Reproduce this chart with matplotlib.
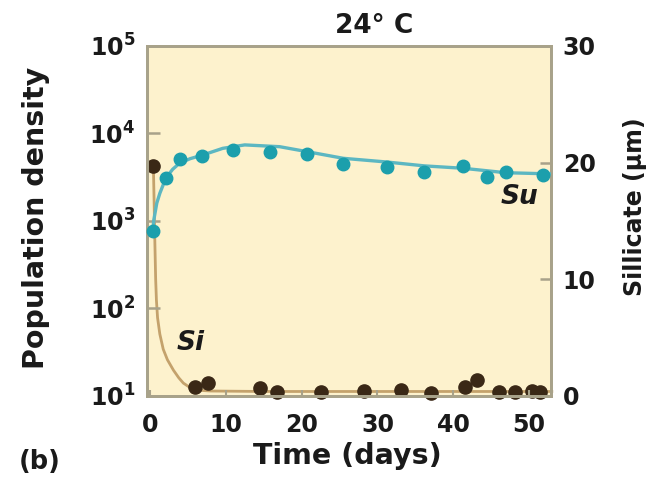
import matplotlib
matplotlib.use("Agg")
import matplotlib.pyplot as plt
from matplotlib.ticker import NullLocator

plt.rcParams['font.family'] = ['DejaVu Sans']
plt.rcParams['mathtext.fontset'] = 'dejavusans'

# Su population density (points)
su_days = [0.35, 2.1, 3.9, 6.9, 10.9, 15.8, 20.7, 25.5, 31.2, 36.2, 41.3, 44.5, 46.9, 51.8]
su_vals = [760, 3080, 5070, 5530, 6470, 6200, 5780, 4480, 4140, 3630, 4250, 3180, 3660, 3380]
# Su fitted curve (read points)
su_curve_days = [0.35, 0.5, 0.9, 1.3, 2.1, 3.0, 3.9, 5.3, 6.9, 9.6, 12.5, 17.1, 20.7, 25.5, 31.2, 36.2, 41.3, 46.9, 52.8]
su_curve_vals = [760, 1020, 1600, 2070, 3100, 3900, 4570, 5150, 5650, 6760, 7400, 7060, 6200, 5200, 4720, 4260, 4000, 3560, 3450]

# Si silicate (points)
si_days = [0.45, 5.9, 7.7, 14.5, 16.7, 22.6, 28.2, 33.1, 37.1, 41.6, 43.2, 46.0, 48.2, 50.4, 51.5]
si_vals = [19.7, 0.8, 1.09, 0.66, 0.37, 0.31, 0.43, 0.51, 0.29, 0.8, 1.37, 0.37, 0.37, 0.4, 0.37]
# Si fitted curve (read points)
si_curve_days = [0.45, 0.55, 0.65, 0.75, 0.85, 1.0, 1.3, 1.75, 2.3, 3.1, 3.8, 4.4, 5.2, 6.0, 7.0, 8.0, 15, 25, 35, 45, 53]
si_curve_vals = [19.7, 16.5, 13.0, 10.0, 8.2, 6.7, 5.3, 4.0, 3.1, 2.2, 1.55, 1.1, 0.75, 0.57, 0.46, 0.42, 0.38, 0.38, 0.38, 0.38, 0.38]

x_ticks = [0, 10, 20, 30, 40, 50]
y_ticks = [10, 100, 1000, 10000, 100000]
y_ticklabels = [r'$\mathbf{10^{1}}$', r'$\mathbf{10^{2}}$', r'$\mathbf{10^{3}}$', r'$\mathbf{10^{4}}$', r'$\mathbf{10^{5}}$']
y2_ticks = [0, 10, 20, 30]

bg = '#FDF2CD'
frame = '#A8A28A'
teal_dot = '#1C9FAC'
teal_line = '#5CB7C2'
brown_dot = '#3A2816'
brown_line = '#C4A26C'
txt = '#1A1A1A'

fig = plt.figure(figsize=(6.56, 4.84), dpi=100)
ax = fig.add_axes([0.224, 0.182, 0.616, 0.723])
ax.set_yscale('log')
ax.set_xlim(-0.4, 52.9)
ax.set_ylim(10, 100000)

ax2 = ax.twinx()
ax2.set_ylim(0, 30)

# background on the lower (right-axis) layer, Su drawn on top
ax.set_zorder(ax2.get_zorder() + 1)
ax.patch.set_visible(False)
ax2.patch.set_visible(True)
ax2.patch.set_facecolor(bg)

ax2.plot(si_curve_days, si_curve_vals, color=brown_line, lw=2.0, zorder=1, clip_on=False)
ax2.plot(si_days, si_vals, 'o', color=brown_dot, ms=9.5, mec=brown_dot, zorder=2, clip_on=False)

ax.plot(su_curve_days, su_curve_vals, color=teal_line, lw=2.4, zorder=3)
ax.plot(su_days, su_vals, 'o', color=teal_dot, ms=9.0, mec=teal_dot, zorder=4, clip_on=False)

for a in (ax, ax2):
    for s in a.spines.values():
        s.set_color(frame)
        s.set_linewidth(2.0)

ax.set_xticks(x_ticks)
ax.set_xticklabels([str(t) for t in x_ticks], fontsize=17, fontweight='bold', color=txt)
ax.set_yticks(y_ticks)
ax.set_yticklabels(y_ticklabels, fontsize=17, color=txt)
ax.yaxis.set_minor_locator(NullLocator())
ax.xaxis.set_minor_locator(NullLocator())
ax.tick_params(axis='y', direction='in', length=9, width=1.8, color=frame, pad=8.5)
ax.tick_params(axis='x', direction='in', length=4, width=1.5, color=frame, pad=12)

ax2.set_yticks(y2_ticks)
ax2.set_yticklabels([str(t) for t in y2_ticks], fontsize=17, fontweight='bold', color=txt)
ax2.tick_params(axis='y', direction='in', length=8, width=1.8, color=frame, pad=8.5)

# axis titles and annotations
fig.text(347 / 656, 1 - 464 / 484, 'Time (days)', fontsize=20.5, fontweight='bold',
         ha='center', va='baseline', color=txt)
fig.text(36 / 656, 1 - 218 / 484, 'Population density', fontsize=20.5, fontweight='bold',
         rotation=90, ha='center', va='center', color=txt)
fig.text(635 / 656, 1 - 207 / 484, 'Sillicate (\u03bcm)', fontsize=17, fontweight='bold',
         rotation=90, ha='center', va='center', color=txt)
fig.text(374 / 656, 1 - 33 / 484, '24\u00b0 C', fontsize=19, fontweight='bold',
         ha='center', va='baseline', color=txt)
fig.text(19 / 656, 1 - 469 / 484, '(b)', fontsize=18.5, fontweight='bold',
         ha='left', va='baseline', color=txt)

ax.text(48.7, 1880, 'Su', fontsize=19, fontweight='bold', style='italic',
        ha='center', va='center', zorder=5, color=txt)
ax.text(5.3, 40, 'Si', fontsize=19, fontweight='bold', style='italic',
        ha='center', va='center', zorder=5, color=txt)

fig.savefig('out.png', dpi=100)
